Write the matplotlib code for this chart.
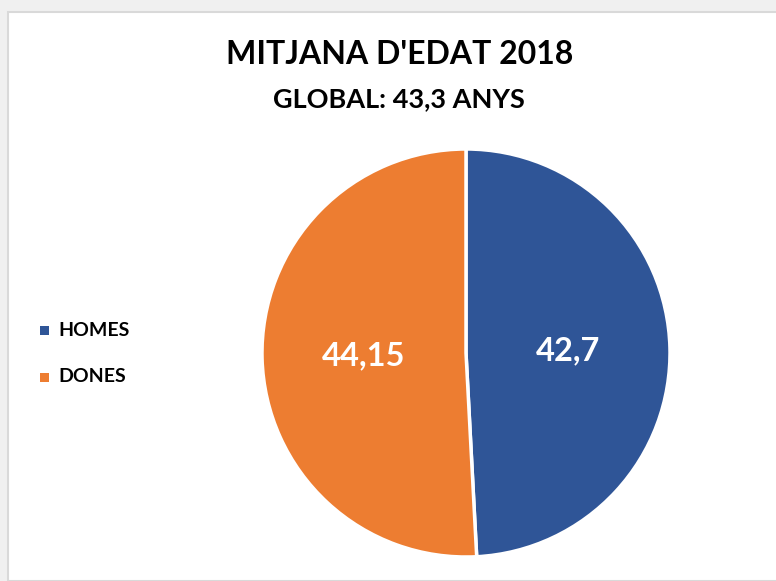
import matplotlib
matplotlib.use("Agg")
import matplotlib.pyplot as plt
import numpy as np
from matplotlib.patches import Rectangle

categories = ["HOMES", "DONES"]
values = [42.7, 44.15]
value_labels = ["42,7", "44,15"]
colors = ["#2f5597", "#ed7d31"]

title = "MITJANA D'EDAT 2018"
subtitle = "GLOBAL: 43,3 ANYS"

W, H = 776, 581
fig = plt.figure(figsize=(W / 100, H / 100), dpi=100)
fig.patch.set_facecolor("#f0f0f0")

# white chart panel with a faint border on the left/top
fig.patches.append(Rectangle((8 / W, 0), 1, 1 - 12 / H, transform=fig.transFigure,
                             facecolor="white", edgecolor="#d9d9d9", linewidth=1.5,
                             zorder=-5))

font = ["Lato", "DejaVu Sans"]

fig.text(400 / W, 1 - 55 / H, title, ha="center", va="center", fontsize=23,
         fontweight="bold", family=font)
fig.text(399 / W, 1 - 99 / H, subtitle, ha="center", va="center", fontsize=19.5,
         fontweight="bold", family=font)

# pie
cx, cy, r = 466, 353, 204
ax = fig.add_axes([(cx - r) / W, (H - cy - r) / H, 2 * r / W, 2 * r / H])
wedges, _ = ax.pie(values, colors=colors, startangle=90, counterclock=False,
                   wedgeprops=dict(edgecolor="white", linewidth=2.5))
ax.set_xlim(-1, 1)
ax.set_ylim(-1, 1)
ax.set_aspect("equal")
for w, lab in zip(wedges, value_labels):
    ang = np.deg2rad((w.theta1 + w.theta2) / 2)
    ax.text(0.5 * np.cos(ang), 0.5 * np.sin(ang), lab, ha="center", va="center",
            color="white", fontsize=23.5, fontweight="bold", family=font)

# legend
for i, (cat, col) in enumerate(zip(categories, colors)):
    y = 1 - (330 + 47 * i) / H
    fig.patches.append(Rectangle((40 / W, y - 4.5 / H), 9 / W, 9 / H,
                                 transform=fig.transFigure, facecolor=col, edgecolor="none"))
    fig.text(58 / W, y, cat, ha="left", va="center", fontsize=14,
             fontweight="bold", family=font)

fig.savefig("out.png", dpi=100)
